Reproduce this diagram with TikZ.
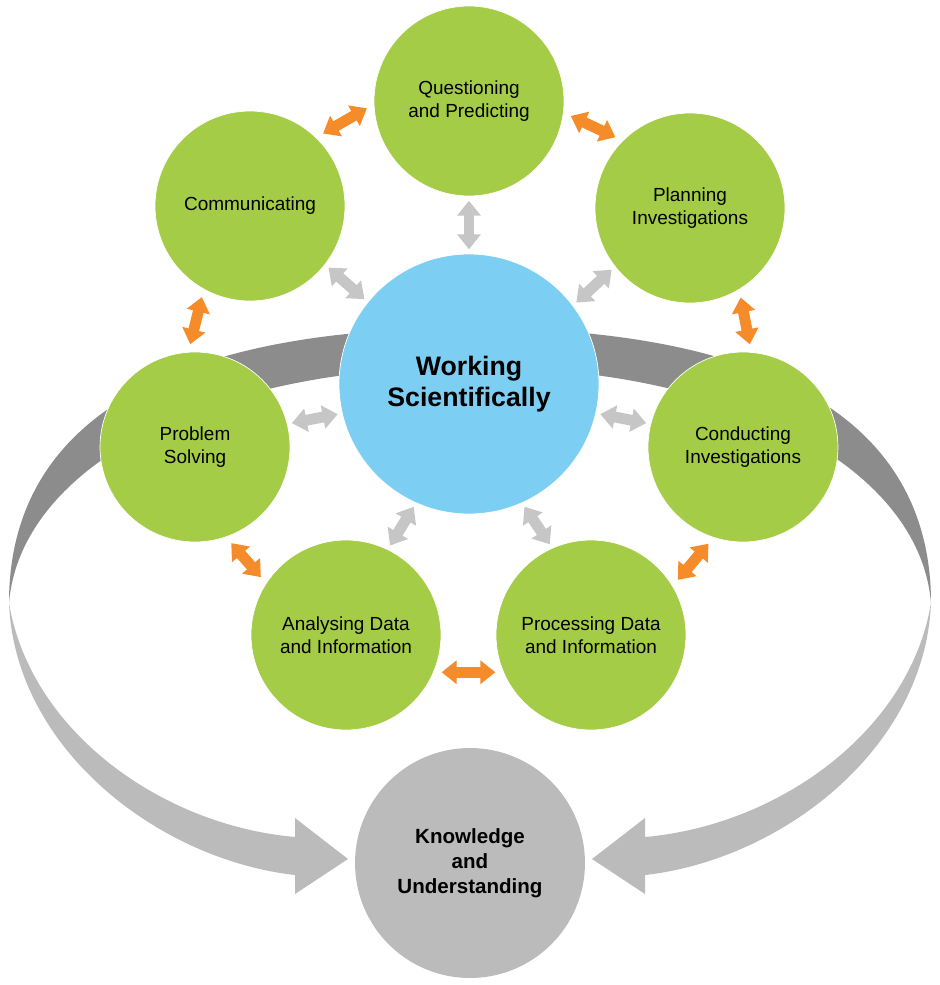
\documentclass[tikz,border=0pt]{standalone}
\usepackage{fontspec}
\setmainfont{Liberation Sans}
\usetikzlibrary{arrows.meta}

\definecolor{leaf}{HTML}{A4CC46}
\definecolor{sky}{HTML}{7DCEF3}
\definecolor{amber}{HTML}{F68B2A}
\definecolor{mist}{HTML}{C6C6C6}
\definecolor{ringback}{HTML}{8C8C8C}
\definecolor{ringfront}{HTML}{BBBBBB}

\begin{document}
\begin{tikzpicture}[x=0.02cm, y=-0.02cm,
  skill/.style={circle, fill=leaf, draw=white, line width=0.4pt, minimum size=3.8cm,
    inner sep=0pt, align=center, font=\fontsize{10.8}{13}\selectfont},
  core/.style={circle, fill=sky, draw=white, line width=0.4pt, minimum size=5.2cm,
    inner sep=0pt, align=center, font=\fontsize{15.2}{17.5}\selectfont\bfseries},
  goal/.style={circle, fill=ringfront, minimum size=4.6cm,
    inner sep=0pt, align=center, font=\fontsize{11.7}{14.2}\selectfont\bfseries},
  link/.style={line width=6.2pt,
    {Triangle[width=13pt,length=8.5pt]}-{Triangle[width=13pt,length=8.5pt]}},
  around/.style={link, amber, shorten <=4.5pt, shorten >=4.5pt},
  spoke/.style={link, mist, shorten <=2.5pt, shorten >=2.5pt}]
  \useasboundingbox (0,0) rectangle (940,985);

  % back of the ring
  \fill[ringback] (9,603) .. controls (9,420) and (170,328) .. (470,328)
    .. controls (770,328) and (931,420) .. (931,603)
    .. controls (920,470) and (740,367) .. (470,367)
    .. controls (200,367) and (20,470) .. (9,603) -- cycle;
  % front of the ring, ending in two arrows
  \fill[ringfront] (9,603) .. controls (15,750) and (160,860) .. (295,875)
    -- (295,894) -- (348,859) -- (295,818) -- (295,837)
    .. controls (160,825) and (30,730) .. (9,603) -- cycle;
  \fill[ringfront] (931,603) .. controls (925,750) and (780,860) .. (645,875)
    -- (645,894) -- (592,859) -- (645,818) -- (645,837)
    .. controls (780,825) and (910,730) .. (931,603) -- cycle;

  \node[skill] (quest) at (469,101) {Questioning\\and Predicting};
  \node[skill] (comm) at (250,206) {Communicating};
  \node[skill] (plan) at (690,208) {Planning\\Investigations};
  \node[core] (work) at (469,384) {Working\\Scientifically};
  \node[skill] (prob) at (195,447) {Problem\\Solving};
  \node[skill] (cond) at (743,447) {Conducting\\Investigations};
  \node[skill] (anal) at (346,635) {Analysing Data\\and Information};
  \node[skill] (proc) at (591,635) {Processing Data\\and Information};
  \node[goal] (know) at (470,863) {Knowledge\\and\\Understanding};

  \draw[around] (comm.46) -- (quest.182);
  \draw[around] (quest.-7) -- (plan.135);
  \draw[around] (plan.-59) -- (cond.85);
  \draw[around] (cond.-108) -- (proc.31);
  \draw[around] (proc.203) -- (anal.-23);
  \draw[around] (anal.147) -- (prob.-71);
  \draw[around] (prob.94) -- (comm.241);

  \draw[spoke] (work.90) -- (quest.270);
  \draw[spoke] (work.141) -- (comm.-38);
  \draw[spoke] (work.37) -- (plan.218);
  \draw[spoke] (work.193) -- (prob.14);
  \draw[spoke] (work.-13) -- (cond.166);
  \draw[spoke] (work.246) -- (anal.64);
  \draw[spoke] (work.-66) -- (proc.114);
\end{tikzpicture}
\end{document}
